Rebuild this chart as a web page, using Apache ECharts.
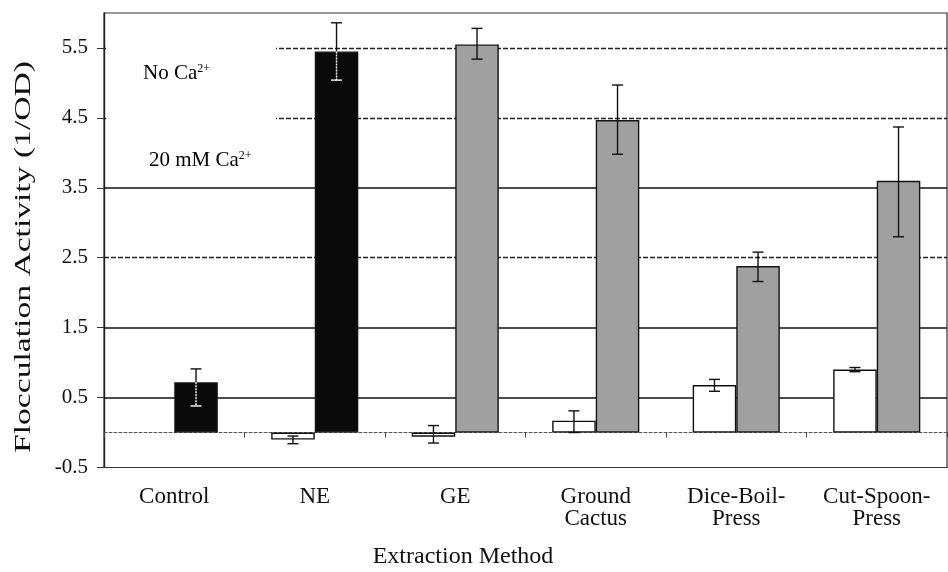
<!DOCTYPE html>
<html><head><meta charset="utf-8">
<script src="https://cdn.jsdelivr.net/npm/echarts@6/dist/echarts.min.js"></script>
<style>html,body{margin:0;padding:0;background:#fff}#c{width:948px;height:572px}</style>
</head><body><div id="c"></div>
<script>
// ---- data ----
const categories = ['Control', 'NE', 'GE', 'Ground\nCactus', 'Dice-Boil-\nPress', 'Cut-Spoon-\nPress'];
const seriesNames = ['No Ca2+', '20 mM Ca2+'];
const noCaValues = [null, -0.10, -0.06, 0.17, 0.68, 0.90];
const noCaLow    = [null, -0.16, -0.15, 0.00, 0.59, 0.87];
const noCaHigh   = [null, -0.05,  0.10, 0.31, 0.76, 0.93];
const caValues   = [0.72, 5.45, 5.55, 4.47, 2.38, 3.60];
const caLow      = [0.38, 5.04, 5.34, 3.98, 2.16, 2.80];
const caHigh     = [0.91, 5.86, 5.78, 4.97, 2.58, 4.37];
const yTickValues = [-0.5, 0.5, 1.5, 2.5, 3.5, 4.5, 5.5];
const gridValues = [5.5, 4.5, 3.5, 2.5, 1.5, 0.5];
const yMin = -0.5, yMax = 6, yInterval = 1;

// ---- styling ----
const FONT = "'Liberation Serif', 'Times New Roman', serif";
const INK = '#111111';
const CAT_GAP = 0.38;           // barCategoryGap fraction
const dashedGrid = {5.5: true, 4.5: true, 2.5: true};
const isDark = i => i < 2;      // Control & NE bars are solid black

function errorSeries(name, side, vals, lo, hi, darkFn) {
  const data = [];
  vals.forEach((v, i) => { if (v !== null) data.push([i, lo[i], hi[i], v]); });
  return {
    type: 'custom', name: name, xAxisIndex: 0, yAxisIndex: 0, z: 6, silent: true,
    data: data, encode: { x: 0, y: [1, 2] },
    renderItem: function (params, api) {
      const i = api.value(0);
      const band = api.size([1, 0])[0];
      const base = api.coord([i, api.value(3)]);
      const x = base[0] + side * band * (1 - CAT_GAP) / 4;
      const yLo = api.coord([i, api.value(1)])[1];
      const yHi = api.coord([i, api.value(2)])[1];
      const yV = base[1];
      const cap = 5.5;
      const dark = darkFn(i);
      const blk = { stroke: INK, lineWidth: 1.4 };
      const inner = { stroke: '#ffffff', lineWidth: 1.4, lineDash: [2, 1] };
      const ch = [];
      if (dark) {
        ch.push({ type: 'line', shape: { x1: x, y1: yHi, x2: x, y2: yV }, style: blk });
        ch.push({ type: 'line', shape: { x1: x, y1: yV, x2: x, y2: yLo }, style: inner });
        ch.push({ type: 'line', shape: { x1: x - cap, y1: yHi, x2: x + cap, y2: yHi }, style: blk });
        ch.push({ type: 'line', shape: { x1: x - cap, y1: yLo, x2: x + cap, y2: yLo }, style: { stroke: '#ffffff', lineWidth: 1.4 } });
      } else {
        ch.push({ type: 'line', shape: { x1: x, y1: yHi, x2: x, y2: yLo }, style: blk });
        ch.push({ type: 'line', shape: { x1: x - cap, y1: yHi, x2: x + cap, y2: yHi }, style: blk });
        ch.push({ type: 'line', shape: { x1: x - cap, y1: yLo, x2: x + cap, y2: yLo }, style: blk });
      }
      return { type: 'group', children: ch };
    }
  };
}

const chart = echarts.init(document.getElementById('c'), null, { renderer: 'canvas' });
chart.setOption({
  animation: false,
  backgroundColor: '#ffffff',
  textStyle: { fontFamily: FONT, color: INK },
  grid: { left: 104, right: 1, top: 13, bottom: 104.5, show: true, borderColor: '#333', borderWidth: 1.2, backgroundColor: 'transparent' },
  xAxis: [{
    type: 'category', data: categories, position: 'bottom',
    axisLine: { show: true, onZero: false, lineStyle: { color: '#333', width: 1.2 } },
    axisTick: { show: false },
    axisLabel: { fontFamily: FONT, fontSize: 23, lineHeight: 22, color: INK, margin: 18, interval: 0 },
    splitLine: { show: false }
  }, {
    type: 'category', data: categories, position: 'bottom',
    axisLine: { show: true, onZero: true, lineStyle: { color: '#555', width: 1, type: [3, 2] } },
    axisTick: { show: true, inside: false, length: 5, lineStyle: { color: '#444', width: 1 } },
    axisLabel: { show: false },
    splitLine: { show: false }
  }],
  yAxis: {
    type: 'value', min: yMin, max: yMax, interval: yInterval,
    axisLine: { show: true, lineStyle: { color: '#222', width: 1.4 } },
    axisTick: { show: true, length: 7, customValues: yTickValues, lineStyle: { color: '#333' } },
    axisLabel: {
      fontFamily: FONT, fontSize: 21, color: INK, margin: 16, customValues: yTickValues,
      formatter: v => v.toFixed(1)
    },
    splitLine: { show: false }
  },
  series: [
    {
      type: 'line', name: 'grid', data: [], silent: true, z: 1,
      markLine: {
        z: 1, silent: true, symbol: 'none', label: { show: false }, animation: false,
        data: gridValues.map(v => ({
          yAxis: v,
          lineStyle: dashedGrid[v]
            ? { color: '#222', width: 1.4, type: [5, 2] }
            : { color: '#111', width: 1.6, type: 'solid' }
        }))
      }
    },
    {
      type: 'bar', name: seriesNames[0], data: noCaValues, xAxisIndex: 0,
      barGap: '0%', barCategoryGap: (CAT_GAP * 100) + '%', z: 3,
      itemStyle: { color: '#ffffff', borderColor: INK, borderWidth: 1.4 }
    },
    {
      type: 'bar', name: seriesNames[1], data: caValues, xAxisIndex: 0,
      barGap: '0%', barCategoryGap: (CAT_GAP * 100) + '%', z: 3,
      itemStyle: {
        color: p => (isDark(p.dataIndex) ? '#0a0a0a' : '#a0a0a0'),
        borderColor: '#151515', borderWidth: 1.4
      }
    },
    errorSeries(seriesNames[0] + ' error', -1, noCaValues, noCaLow, noCaHigh, () => false),
    errorSeries(seriesNames[1] + ' error', 1, caValues, caLow, caHigh, isDark)
  ],
  graphic: [
    { type: 'rect', z: 20, silent: true, shape: { x: 106, y: 28, width: 170, height: 150 }, style: { fill: '#ffffff' } },
    {
      type: 'text', z: 21, silent: true, x: 143, y: 73,
      style: {
        text: '{a|No Ca}{s|2+}', verticalAlign: 'middle', align: 'left',
        rich: { a: { fontFamily: FONT, fontSize: 21, color: INK }, s: { fontFamily: FONT, fontSize: 12, color: INK, verticalAlign: 'top' } }
      }
    },
    {
      type: 'text', z: 21, silent: true, x: 149, y: 160,
      style: {
        text: '{a|20 mM Ca}{s|2+}', verticalAlign: 'middle', align: 'left',
        rich: { a: { fontFamily: FONT, fontSize: 21, color: INK }, s: { fontFamily: FONT, fontSize: 12, color: INK, verticalAlign: 'top' } }
      }
    },
    {
      type: 'text', z: 21, silent: true, x: 24, y: 257, rotation: Math.PI / 2, scaleX: 1.4,
      style: { text: 'Flocculation Activity (1/OD)', font: "24px 'Liberation Serif', serif", fill: INK, align: 'center', verticalAlign: 'middle' }
    },
    {
      type: 'text', z: 21, silent: true, x: 463, y: 557,
      style: { text: 'Extraction Method', font: "24px 'Liberation Serif', serif", fill: INK, align: 'center', verticalAlign: 'middle' }
    }
  ]
});
</script>
</body></html>
